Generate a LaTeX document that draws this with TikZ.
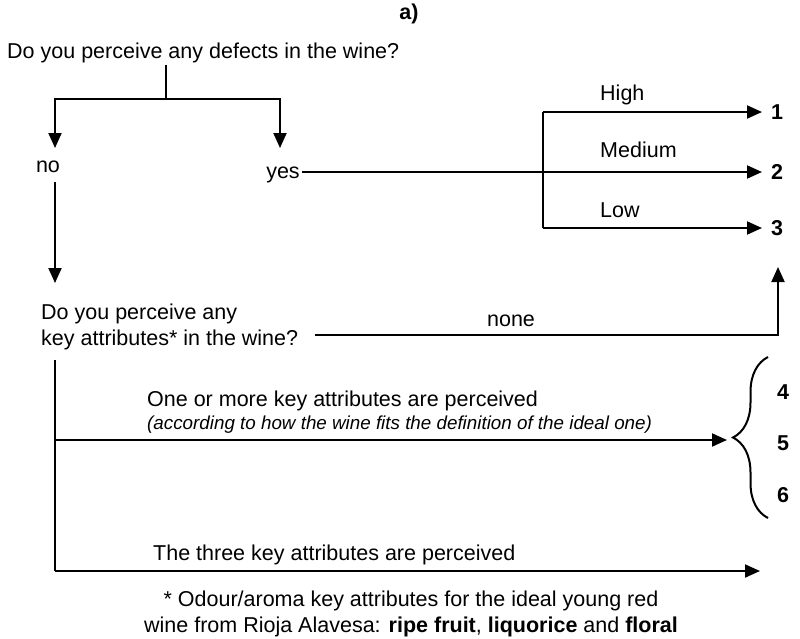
\documentclass[tikz,border=0pt]{standalone}
\usepackage{fontspec}
\setmainfont{Liberation Sans}
\usepackage{tikz}
\usetikzlibrary{arrows.meta,positioning,decorations.pathreplacing}
\tikzset{
  ln/.style={line width=2pt},
  ar/.style={-{Triangle[length=15pt,width=13pt]},line width=2pt},
  lbl/.style={font=\fontsize{21.5}{26}\selectfont,inner sep=0pt},
  num/.style={font=\fontsize{21.5}{26}\selectfont\bfseries,inner sep=0pt},
  note/.style={font=\fontsize{18.8}{22}\selectfont\itshape,inner sep=0pt}
}

\begin{document}
\begin{tikzpicture}[x=1pt,y=-1pt]
\useasboundingbox (0,0) rectangle (800,638);
% title and first question
\node[num,anchor=base] (ttl) at (409,19) {a)};
\node[lbl,anchor=base west] (q1) at (7,58) {Do you perceive any defects in the wine?};
\coordinate (fork) at (166,99);
\coordinate (noTip) at (55,148);
\coordinate (yesTip) at (280,148);
\draw[ln,shorten <=2pt] (fork |- q1.south) -- (fork);
\draw[ar] (fork) -| (noTip);
\draw[ar] (fork) -| (yesTip);
\node[lbl,anchor=base] (no) at (48,172) {no};
\node[lbl,anchor=base] (yes) at (283,178) {yes};
% defects: intensity
\coordinate (t1) at (762,112);
\coordinate (t2) at (762,172);
\coordinate (t3) at (762,228);
\coordinate (sp1) at (543,112);
\coordinate (sp3) at (543,228);
\draw[ar,shorten <=2pt] (yes.east |- t2) -- (t2);
\draw[ln] (sp1) -- (sp3);
\draw[ar] (sp1) -- (t1);
\draw[ar] (sp3) -- (t3);
\node[lbl,anchor=base west] (high) at (600,100) {High};
\node[lbl,anchor=base west] (med) at (600,157) {Medium};
\node[lbl,anchor=base west] (low) at (600,217) {Low};
\node[num,right=9pt of t1] (n1) {1};
\node[num,right=9pt of t2] (n2) {2};
\node[num,right=9pt of t3] (n3) {3};
% second question
\coordinate (q2Tip) at (55,283);
\draw[ar,shorten <=10pt] (no.south -| q2Tip) -- (q2Tip);
\node[lbl,align=left,anchor=west] (q2) at (41,327) {Do you perceive any\\key attributes* in the wine?};
\coordinate (nc) at (778,335);
\coordinate (noneTip) at (778,267);
\draw[ar] ([xshift=17pt]q2.east |- nc) -- (nc) -- (noneTip);
\node[lbl,anchor=base] (none) at (511,326) {none};
% key attributes
\coordinate (b4) at (55,440);
\coordinate (b7) at (55,571);
\coordinate (t4) at (727,440);
\coordinate (t7) at (760,571);
\draw[ln,shorten <=10pt] (q2.south -| b7) -- (b7);
\draw[ar] (b4) -- (t4);
\draw[ar] (b7) -- (t7);
\node[lbl,anchor=base west] (more) at (147,406) {One or more key attributes are perceived};
\node[note,anchor=base west] (fit) at (147,429) {(according to how the wine fits the definition of the ideal one)};
\node[lbl,anchor=base west] (three) at (153,560) {The three key attributes are perceived};
\draw[ln,decorate,decoration={brace,amplitude=35pt}] (768,518) -- (768,357);
\node[num] (n4) at (783,392) {4};
\node[num] (n5) at (783,443) {5};
\node[num] (n6) at (783,495) {6};
% footnote
\node[lbl,align=center] (foot) at (411,614) {* Odour/aroma key attributes for the ideal young red\\wine from Rioja Alavesa: \textbf{ripe fruit}, \textbf{liquorice} and \textbf{floral}};
\end{tikzpicture}
\end{document}
